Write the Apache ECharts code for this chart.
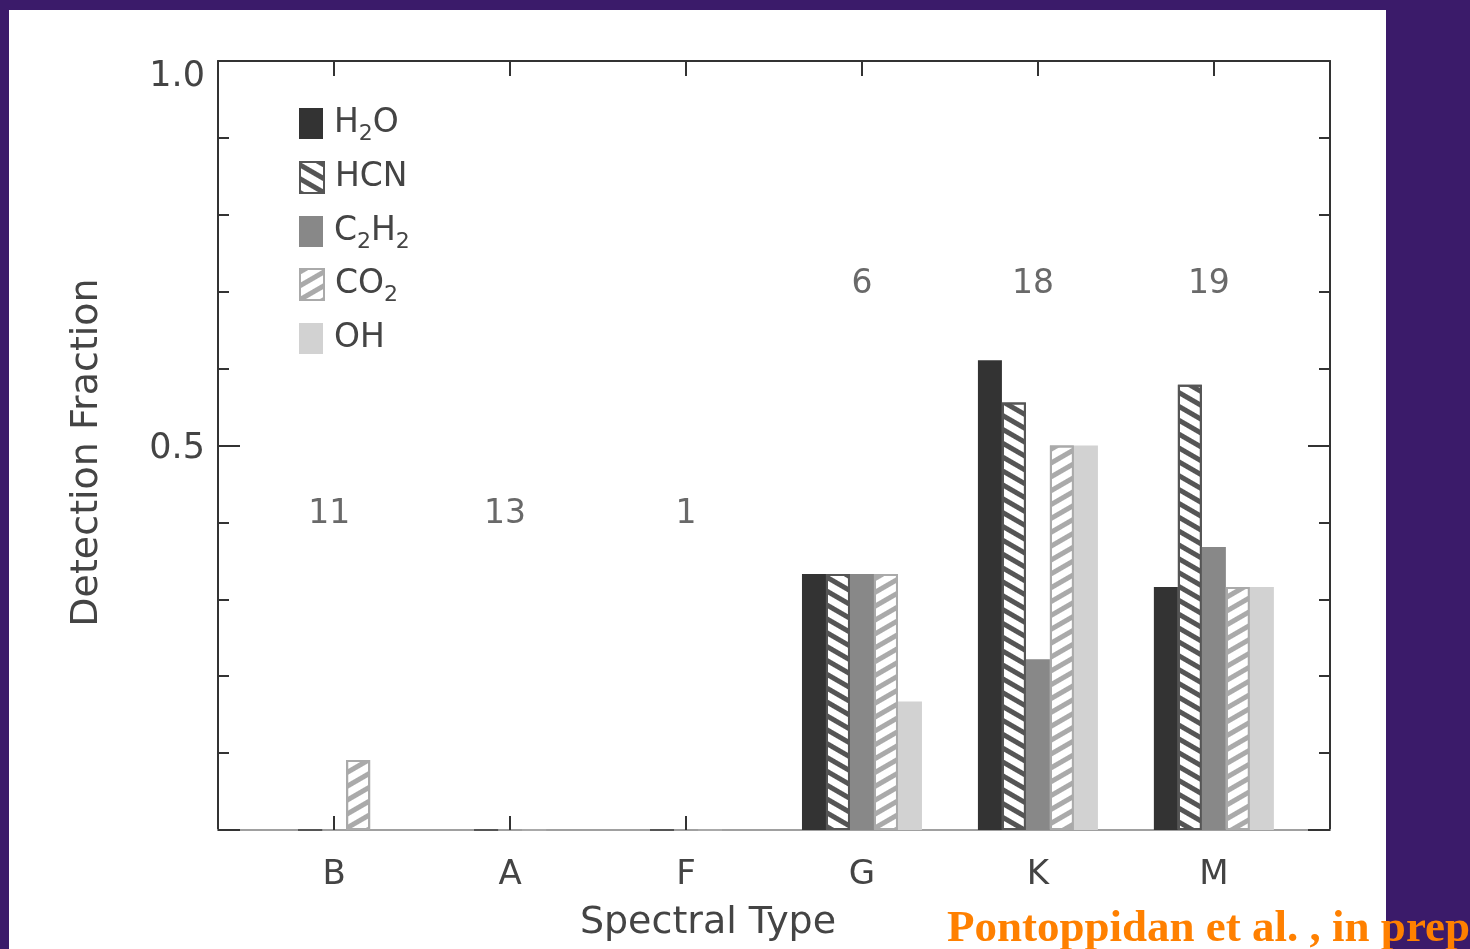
<!DOCTYPE html>
<html>
<head>
<meta charset="utf-8">
<script src="https://cdn.jsdelivr.net/npm/echarts@6/dist/echarts.min.js"></script>
<style>
  html, body { margin: 0; padding: 0; width: 1470px; height: 949px; overflow: hidden; background: #3b1b6a; }
  #panel { position: absolute; left: 9px; top: 10px; width: 1377px; height: 939px; background: #ffffff; }
  #chart { position: absolute; left: 0; top: 0; width: 1470px; height: 949px; }
</style>
</head>
<body>
<div id="panel"></div>
<div id="chart"></div>
<script>
// Spectral types and number of sources in each bin
const categories = ['B', 'A', 'F', 'G', 'K', 'M'];
const sampleSizes = [11, 13, 1, 6, 18, 19];

// Detection fraction of each molecule per spectral type
const h2o  = [0, 0, 0, 0.333, 0.611, 0.316];
const hcn  = [0, 0, 0, 0.333, 0.556, 0.579];
const c2h2 = [0, 0, 0, 0.333, 0.222, 0.368];
const co2  = [0.091, 0, 0, 0.333, 0.500, 0.316];
const oh   = [0, 0, 0, 0.167, 0.500, 0.316];

// Height at which the sample size is written above each bin
const countLabelY = [0.41, 0.41, 0.41, 0.71, 0.71, 0.71];

const molecules = ['H2O', 'HCN', 'C2H2', 'CO2', 'OH'];
const yTickLabels = { '0.5': '{v|0.5}', '1': '{top|1.0}' };

const FONT = "'DejaVu Sans ExtraLight', 'DejaVu Sans'";
const INK = '#444444';
const AXIS = '#333333';
const positions = categories.map((c, i) => i + 1);

function pairs(vals) { return vals.map((v, i) => [positions[i], v]); }

// Legend labels with chemical subscripts
const legendRich = {
  n: { fontFamily: FONT, fontSize: 33, color: INK, lineHeight: 44, verticalAlign: 'middle' },
  s: { fontFamily: FONT, fontSize: 22, color: INK, lineHeight: 22, verticalAlign: 'bottom' }
};
const legendText = {
  'H2O': '{n|H}{s|2}{n|O}',
  'HCN': '{n|HCN}',
  'C2H2': '{n|C}{s|2}{n|H}{s|2}',
  'CO2': '{n|CO}{s|2}',
  'OH': '{n|OH}'
};

// One legend block per molecule, stacked with a fixed row pitch
const LEGEND_TOP = 107;
const LEGEND_PITCH = 53.8;
const legends = molecules.map((name, i) => ({
  orient: 'vertical',
  left: 299,
  top: Math.round(LEGEND_TOP + i * LEGEND_PITCH),
  padding: 0,
  itemWidth: 24,
  itemHeight: 31,
  selectedMode: false,
  icon: 'rect',
  data: [name],
  formatter: (n) => legendText[n],
  textStyle: { rich: legendRich, padding: [0, 0, 0, 6] }
}));

function barSeries(name, vals, itemStyle) {
  return {
    name: name,
    type: 'bar',
    xAxisIndex: 0,
    yAxisIndex: 0,
    barWidth: 24,
    barGap: '0%',
    data: pairs(vals),
    itemStyle: itemStyle,
    emphasis: { disabled: true }
  };
}

const frameLine = { show: true, onZero: false, lineStyle: { color: AXIS, width: 2 } };
const tickLine = { color: AXIS, width: 2 };

const chart = echarts.init(document.getElementById('chart'), null, { renderer: 'canvas' });

chart.setOption({
  animation: false,
  backgroundColor: 'transparent',
  title: {
    text: 'Pontoppidan et al. , in prep',
    left: 947,
    top: 907,
    padding: 0,
    textStyle: { fontFamily: 'Liberation Serif', fontWeight: 'bold', fontSize: 45, color: '#ff8000' }
  },
  legend: legends,
  grid: { left: 218, right: 140, top: 61, bottom: 119 },
  xAxis: [
    {
      type: 'value',
      position: 'bottom',
      min: 0.34,
      max: 6.66,
      name: 'Spectral Type',
      nameLocation: 'middle',
      nameGap: 74,
      nameTextStyle: { fontFamily: FONT, fontSize: 38, color: INK, padding: [0, 132, 0, 0] },
      axisLine: { show: true, onZero: false, lineStyle: { color: '#a0a0a0', width: 2 } },
      axisTick: { show: true, inside: true, length: 14, customValues: positions, lineStyle: tickLine },
      axisLabel: {
        show: true, margin: 28, customValues: positions,
        formatter: (v) => categories[Math.round(v) - 1] || '',
        fontFamily: FONT, fontSize: 34, color: INK
      },
      splitLine: { show: false }
    },
    {
      type: 'value',
      position: 'top',
      min: 0.34,
      max: 6.66,
      axisLine: frameLine,
      axisTick: { show: true, inside: true, length: 15, customValues: positions, lineStyle: tickLine },
      axisLabel: { show: false },
      splitLine: { show: false }
    }
  ],
  yAxis: [
    {
      type: 'value',
      position: 'left',
      min: 0,
      max: 1,
      interval: 0.5,
      name: 'Detection Fraction',
      nameLocation: 'middle',
      nameGap: 112,
      nameTextStyle: { fontFamily: FONT, fontSize: 38, color: INK, padding: [0, 14, 0, 0] },
      axisLine: frameLine,
      axisTick: { show: true, inside: true, length: 22, lineStyle: tickLine },
      minorTick: { show: true, splitNumber: 5, length: 11, lineStyle: tickLine },
      axisLabel: {
        margin: 13,
        formatter: (v) => yTickLabels[String(v)] || '',
        rich: {
          v: { fontFamily: FONT, fontSize: 35, color: INK, padding: [6, 0, 0, 0] },
          top: { fontFamily: FONT, fontSize: 35, color: INK, padding: [32, 0, 0, 0] }
        }
      },
      splitLine: { show: false }
    },
    {
      type: 'value',
      position: 'right',
      min: 0,
      max: 1,
      interval: 0.5,
      axisLine: frameLine,
      axisTick: { show: true, inside: true, length: 22, lineStyle: tickLine },
      minorTick: { show: true, splitNumber: 5, length: 11, lineStyle: tickLine },
      axisLabel: { show: false },
      splitLine: { show: false }
    }
  ],
  series: [
    barSeries('H2O', h2o, { color: '#333333' }),
    barSeries('HCN', hcn, {
      color: '#ffffff', borderColor: '#555555', borderWidth: 2,
      decal: { symbol: 'rect', symbolSize: 1, dashArrayX: [1, 0], dashArrayY: [4.5, 6.5], rotation: Math.PI / 6, color: '#555555' }
    }),
    barSeries('C2H2', c2h2, { color: '#888888' }),
    barSeries('CO2', co2, {
      color: '#ffffff', borderColor: '#aaaaaa', borderWidth: 2,
      decal: { symbol: 'rect', symbolSize: 1, dashArrayX: [1, 0], dashArrayY: [4.5, 6.5], rotation: -Math.PI / 6, color: '#aaaaaa' }
    }),
    barSeries('OH', oh, { color: '#d2d2d2' }),
    {
      name: 'counts',
      type: 'scatter',
      xAxisIndex: 0,
      yAxisIndex: 0,
      symbolSize: 1,
      itemStyle: { color: 'rgba(0,0,0,0)' },
      data: positions.map((x, i) => [x, countLabelY[i]]),
      label: {
        show: true,
        position: 'inside',
        formatter: (p) => String(sampleSizes[p.dataIndex]),
        fontFamily: FONT, fontSize: 33, color: INK
      },
      labelLayout: (p) => ({ dx: String(sampleSizes[p.dataIndex]).length > 1 ? -5 : 0 }),
      emphasis: { disabled: true },
      silent: true
    }
  ]
});
</script>
</body>
</html>
